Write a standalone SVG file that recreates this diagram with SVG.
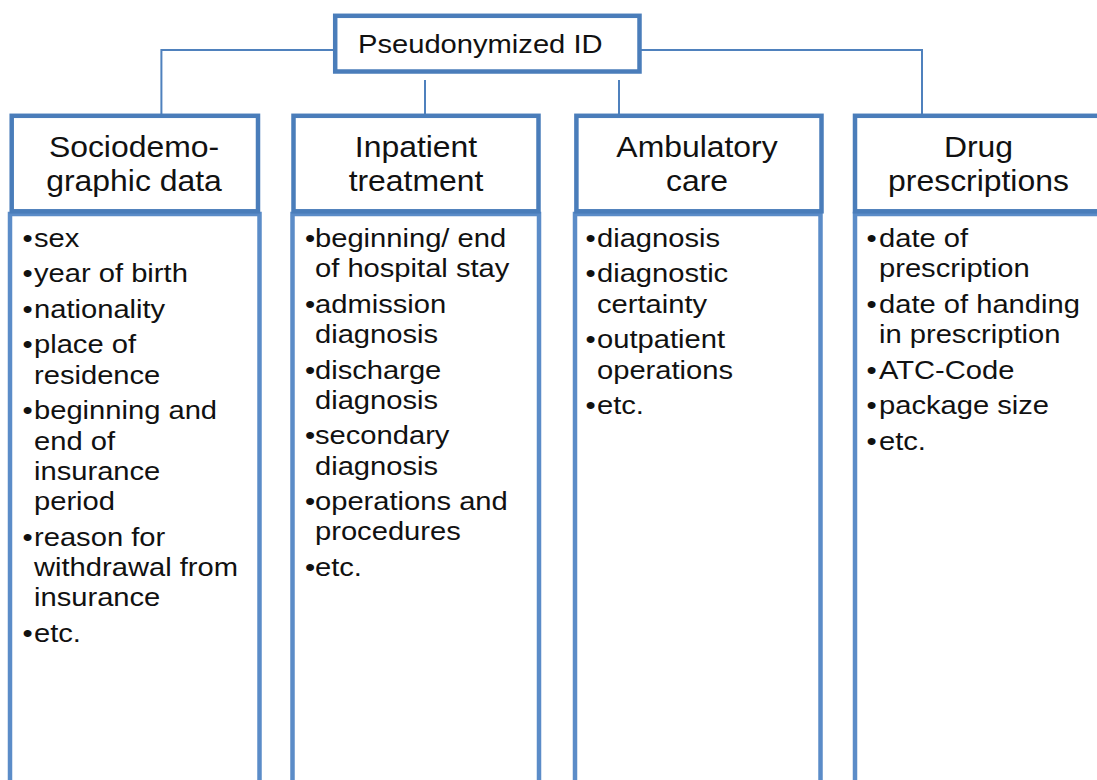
<svg xmlns="http://www.w3.org/2000/svg" width="1097" height="780" viewBox="0 0 1097 780">
<style>
.hdr{fill:#fff;stroke:#4A7DBA;stroke-width:4.5}
.cnt{fill:#fff;stroke:#5B8CC8;stroke-width:4.5}
.con{fill:none;stroke:#4F81BD;stroke-width:2}
text{font-family:"Liberation Sans",Arial,sans-serif;fill:#111}
.t{font-size:26.5px}
.h{font-size:29px;text-anchor:middle}
.b{font-size:26.5px}
</style>
<rect width="1097" height="780" fill="#fff"/>
<g id="connectors">
<path class="con" d="M161.4 114 V50 H334"/>
<path class="con" d="M641 50 H922 V114"/>
<path class="con" d="M425 80 V114"/>
<path class="con" d="M619 80 V114"/>
</g>
<g id="root">
<rect class="hdr" x="335.2" y="15.8" width="304.3" height="55.7"/>
<text class="t" transform="scale(1.1 1)" x="325.45" y="53">Pseudonymized ID</text>
</g>
<g id="sociodemographic">
<rect class="cnt" x="10" y="214" width="249.5" height="600"/>
<rect class="hdr" x="11.7" y="115.8" width="246.3" height="95.5"/>
<text class="h" transform="scale(1.1 1)"><tspan x="121.82" y="157.5">Sociodemo-</tspan><tspan x="121.82" y="191">graphic data</tspan></text>
<text class="b" transform="scale(1.1 1)">
<tspan x="20.45" y="247">•</tspan><tspan x="30.91" y="247">sex</tspan>
<tspan x="20.45" y="282.5">•</tspan><tspan x="30.91" y="282.5">year of birth</tspan>
<tspan x="20.45" y="318">•</tspan><tspan x="30.91" y="318">nationality</tspan>
<tspan x="20.45" y="353.5">•</tspan><tspan x="30.91" y="353.5">place of</tspan>
<tspan x="30.91" y="383.8">residence</tspan>
<tspan x="20.45" y="419.3">•</tspan><tspan x="30.91" y="419.3">beginning and</tspan>
<tspan x="30.91" y="449.6">end of</tspan>
<tspan x="30.91" y="479.9">insurance</tspan>
<tspan x="30.91" y="510.2">period</tspan>
<tspan x="20.45" y="545.7">•</tspan><tspan x="30.91" y="545.7">reason for</tspan>
<tspan x="30.91" y="576">withdrawal from</tspan>
<tspan x="30.91" y="606.3">insurance</tspan>
<tspan x="20.45" y="641.8">•</tspan><tspan x="30.91" y="641.8">etc.</tspan>
</text>
</g>
<g id="inpatient">
<rect class="cnt" x="292.5" y="214" width="246.5" height="600"/>
<rect class="hdr" x="293.5" y="115.8" width="245" height="95.5"/>
<text class="h" transform="scale(1.1 1)"><tspan x="378.18" y="157.5">Inpatient</tspan><tspan x="378.18" y="191">treatment</tspan></text>
<text class="b" transform="scale(1.1 1)">
<tspan x="277.27" y="247">•</tspan><tspan x="286.36" y="247">beginning/ end</tspan>
<tspan x="286.36" y="277.3">of hospital stay</tspan>
<tspan x="277.27" y="312.8">•</tspan><tspan x="286.36" y="312.8">admission</tspan>
<tspan x="286.36" y="343.1">diagnosis</tspan>
<tspan x="277.27" y="378.6">•</tspan><tspan x="286.36" y="378.6">discharge</tspan>
<tspan x="286.36" y="408.9">diagnosis</tspan>
<tspan x="277.27" y="444.4">•</tspan><tspan x="286.36" y="444.4">secondary</tspan>
<tspan x="286.36" y="474.7">diagnosis</tspan>
<tspan x="277.27" y="510.2">•</tspan><tspan x="286.36" y="510.2">operations and</tspan>
<tspan x="286.36" y="540.5">procedures</tspan>
<tspan x="277.27" y="576">•</tspan><tspan x="286.36" y="576">etc.</tspan>
</text>
</g>
<g id="ambulatory">
<rect class="cnt" x="575" y="214" width="245.5" height="600"/>
<rect class="hdr" x="576.4" y="115.8" width="245.1" height="95.5"/>
<text class="h" transform="scale(1.1 1)"><tspan x="633.64" y="157.5">Ambulatory</tspan><tspan x="633.64" y="191">care</tspan></text>
<text class="b" transform="scale(1.1 1)">
<tspan x="532.27" y="247">•</tspan><tspan x="542.73" y="247">diagnosis</tspan>
<tspan x="532.27" y="282.5">•</tspan><tspan x="542.73" y="282.5">diagnostic</tspan>
<tspan x="542.73" y="312.8">certainty</tspan>
<tspan x="532.27" y="348.3">•</tspan><tspan x="542.73" y="348.3">outpatient</tspan>
<tspan x="542.73" y="378.6">operations</tspan>
<tspan x="532.27" y="414.1">•</tspan><tspan x="542.73" y="414.1">etc.</tspan>
</text>
</g>
<g id="drugs">
<rect class="cnt" x="855" y="214" width="247" height="600"/>
<rect class="hdr" x="855" y="115.8" width="247" height="95.5"/>
<text class="h" transform="scale(1.1 1)"><tspan x="889.55" y="157.5">Drug</tspan><tspan x="889.55" y="191">prescriptions</tspan></text>
<text class="b" transform="scale(1.1 1)">
<tspan x="787.73" y="247">•</tspan><tspan x="799.09" y="247">date of</tspan>
<tspan x="799.09" y="277.3">prescription</tspan>
<tspan x="787.73" y="312.8">•</tspan><tspan x="799.09" y="312.8">date of handing</tspan>
<tspan x="799.09" y="343.1">in prescription</tspan>
<tspan x="787.73" y="378.6">•</tspan><tspan x="799.09" y="378.6">ATC-Code</tspan>
<tspan x="787.73" y="414.1">•</tspan><tspan x="799.09" y="414.1">package size</tspan>
<tspan x="787.73" y="449.6">•</tspan><tspan x="799.09" y="449.6">etc.</tspan>
</text>
</g>
</svg>
